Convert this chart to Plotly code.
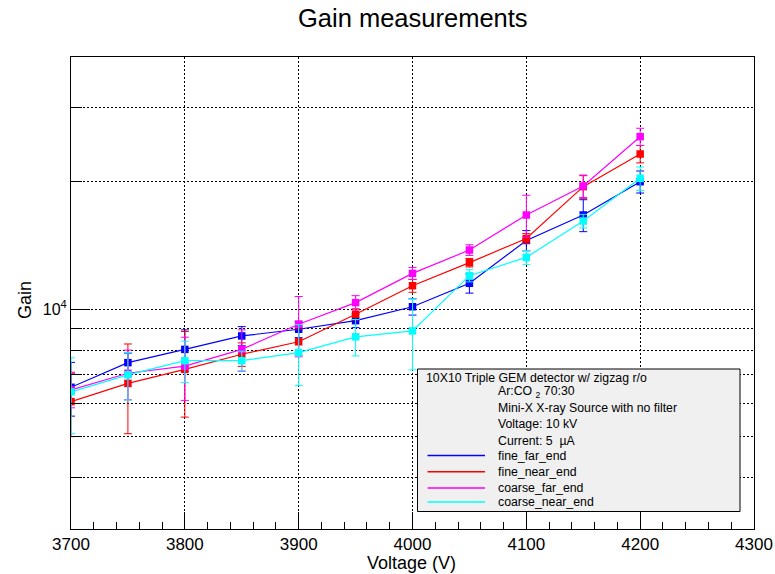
import plotly.graph_objects as go

voltage = [3700, 3750, 3800, 3850, 3900, 3950, 4000, 4050, 4100, 4150, 4200]

fine_far_end = [6540, 7480, 8040, 8650, 8970, 9400, 10140, 11520, 14550, 16710, 20030]
fine_far_err = [950, 400, 900, 450, 400, 350, 450, 600, 800, 1450, 1200]

fine_near_end = [6050, 6680, 7210, 7830, 8380, 9730, 11370, 12890, 14700, 19500, 23290]
fine_near_err = [1050, 1600, 1650, 500, 600, 300, 400, 300, 400, 1200, 1100]

coarse_far_end = [6450, 7060, 7340, 8040, 9220, 10370, 12160, 13810, 16710, 19570, 25590]
coarse_far_err = [600, 950, 1250, 900, 1500, 400, 400, 400, 1900, 1200, 1200]

coarse_near_end = [6380, 7000, 7560, 7560, 7900, 8610, 8890, 12010, 13270, 16170, 20400]
coarse_near_err = [1300, 900, 850, 400, 1300, 850, 1700, 400, 500, 600, 1300]

series_names = ["fine_far_end", "fine_near_end", "coarse_far_end", "coarse_near_end"]
series_colors = ["#0000ff", "#ff0000", "#ff00ff", "#00ffff"]
series_vals = [fine_far_end, fine_near_end, coarse_far_end, coarse_near_end]
series_errs = [fine_far_err, fine_near_err, coarse_far_err, coarse_near_err]

y_minor_ticks = [4000, 5000, 6000, 7000, 8000, 9000, 20000, 30000]

info_lines = [
    "10X10 Triple GEM detector w/ zigzag r/o",
    "Ar:CO\u00a0<sub>2</sub> 70:30",
    "Mini-X X-ray Source with no filter",
    "Voltage: 10 kV",
    "Current: 5\u00a0\u00a0\u00b5A",
]

FONT = "Liberation Sans, Arial, Helvetica, sans-serif"
W_FIG, H_FIG = 775, 574
L, R, T, B = 71, 754, 57, 529
PW, PH = R - L, B - T


def px(x):
    return (x - L) / PW


def py(y):
    return (B - y) / PH


fig = go.Figure()
for name, color, vals, errs in zip(series_names, series_colors, series_vals, series_errs):
    fig.add_trace(go.Scatter(
        x=voltage, y=vals, name=name, mode="lines+markers",
        line=dict(color=color, width=1.2),
        marker=dict(symbol="square", size=7.5, color=color),
        error_y=dict(type="data", array=errs, visible=True, color=color,
                     thickness=1, width=4),
        showlegend=False,
    ))

fig.update_layout(
    width=W_FIG, height=H_FIG,
    margin=dict(l=L, r=W_FIG - R, t=T, b=H_FIG - B),
    paper_bgcolor="white", plot_bgcolor="white",
    font=dict(family=FONT, color="black"),
    showlegend=False,
)

fig.update_xaxes(
    range=[3700, 4300], dtick=100, tick0=3700,
    ticks="inside", ticklen=17, tickcolor="black", tickwidth=1,
    showline=True, linecolor="black", linewidth=1, mirror=True,
    showgrid=True, gridcolor="black", gridwidth=1, griddash="2px,2px",
    zeroline=False, ticklabeloverflow="allow", automargin=False,
    tickfont=dict(size=17, family=FONT),
    minor=dict(dtick=20, ticks="inside", ticklen=7, tickcolor="black", showgrid=False),
)

fig.update_yaxes(
    type="log", range=[3.4806, 4.5965],
    tickmode="array", tickvals=[10000], ticktext=["10<sup>4</sup>"],
    ticks="inside", ticklen=19, tickcolor="black", tickwidth=1,
    showline=True, linecolor="black", linewidth=1, mirror=True,
    showgrid=True, gridcolor="black", gridwidth=1, griddash="2px,2px",
    zeroline=False, automargin=False,
    tickfont=dict(size=16, family=FONT),
    minor=dict(tickmode="array", tickvals=y_minor_ticks, ticks="inside", ticklen=11,
               tickcolor="black", showgrid=True, gridcolor="black", gridwidth=1,
               griddash="2px,2px"),
)

annotations = [
    dict(text="Gain measurements", x=px(413), y=py(18), xref="paper", yref="paper",
         showarrow=False, font=dict(size=25.5, family=FONT), xanchor="center", yanchor="middle"),
    dict(text="Voltage (V)", x=px(411), y=py(563), xref="paper", yref="paper",
         showarrow=False, font=dict(size=18, family=FONT), xanchor="center", yanchor="middle"),
    dict(text="Gain", x=px(25), y=py(300), xref="paper", yref="paper", textangle=-90,
         showarrow=False, font=dict(size=18, family=FONT), xanchor="center", yanchor="middle"),
]

# legend box
shapes = [dict(type="rect", xref="paper", yref="paper",
               x0=px(417.5), x1=px(740), y0=py(511.5), y1=py(369),
               fillcolor="#f0f0f0", line=dict(color="black", width=1), layer="above")]

info_y = [377.7, 392, 408.3, 424, 441]
info_x = [424, 496, 496, 496, 496]
for t, xx, yy in zip(info_lines, info_x, info_y):
    annotations.append(dict(text=t, x=px(xx), y=py(yy), xref="paper", yref="paper",
                            showarrow=False, font=dict(size=12.3, family=FONT),
                            xanchor="left", yanchor="middle"))

leg_y = [455.5, 471.7, 488, 502]
for name, color, yy in zip(series_names, series_colors, leg_y):
    shapes.append(dict(type="line", xref="paper", yref="paper",
                       x0=px(427.5), x1=px(485), y0=py(yy), y1=py(yy),
                       line=dict(color=color, width=1.5), layer="above"))
    annotations.append(dict(text=name, x=px(496), y=py(yy), xref="paper", yref="paper",
                            showarrow=False, font=dict(size=12.3, family=FONT),
                            xanchor="left", yanchor="middle"))

fig.update_layout(annotations=annotations, shapes=shapes)

fig.write_html("out.html", config={"displayModeBar": False},
               post_script="document.body.style.margin='0';document.body.style.padding='0';")
